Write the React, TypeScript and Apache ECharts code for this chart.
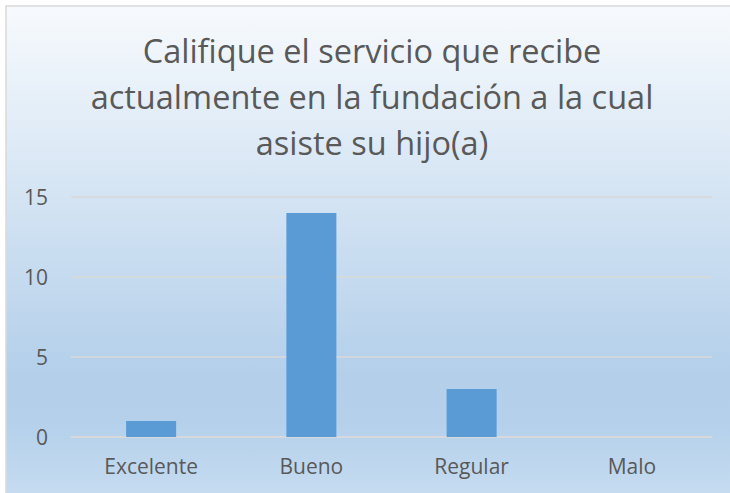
import React, { useEffect, useRef } from "react";
import * as echarts from "echarts";

const titleText = "Califique el servicio que recibe\nactualmente en la fundación a la cual\nasiste su hijo(a)";
const categories = ["Excelente", "Bueno", "Regular", "Malo"];
const values = [1, 14, 3, 0];
const yTicks = { min: 0, max: 15, interval: 5 };

export default function App() {
  const ref = useRef<HTMLDivElement>(null);
  useEffect(() => {
    const chart = echarts.init(ref.current!, null, { renderer: "svg" });
    const font = "'Open Sans', 'Noto Sans', sans-serif";
    chart.setOption({
      animation: false,
      graphic: [
        {
          type: "rect",
          z: -10,
          silent: true,
          shape: { x: 6, y: 6, width: 740, height: 500 },
          style: {
            fill: new echarts.graphic.LinearGradient(0, 0, 0, 1, [
              { offset: 0, color: "#f7fafd" },
              { offset: 0.74, color: "#b3cfea" },
              { offset: 0.83, color: "#b4d0eb" },
              { offset: 1, color: "#c8ddf1" },
            ]),
            stroke: "#d9d9d9",
            lineWidth: 1.5,
          },
        },
      ],
      title: {
        text: titleText,
        left: 367,
        textAlign: "center",
        top: 22,
        textStyle: {
          fontFamily: font,
          fontSize: 32.5,
          fontWeight: "normal",
          color: "#595959",
          lineHeight: 46,
        },
      },
      grid: { left: 71, right: 18, top: 197, bottom: 56 },
      xAxis: {
        type: "category",
        data: categories,
        axisLine: { lineStyle: { color: "#d9d9d9", width: 1.5 } },
        axisTick: { show: false },
        axisLabel: { fontFamily: font, fontSize: 21, color: "#595959", margin: 18 },
      },
      yAxis: {
        type: "value",
        min: yTicks.min,
        max: yTicks.max,
        interval: yTicks.interval,
        axisLine: { show: false },
        axisTick: { show: false },
        splitLine: { lineStyle: { color: "#d9d9d9", width: 1.5 } },
        axisLabel: { fontFamily: font, fontSize: 21, color: "#595959", margin: 23 },
      },
      series: [
        {
          type: "bar",
          data: values,
          barWidth: 50,
          itemStyle: { color: "#5b9bd5" },
        },
      ],
    });
    return () => chart.dispose();
  }, []);
  return (
    <div
      ref={ref}
      style={{ position: "absolute", left: 0, top: 0, width: 730, height: 493 }}
    />
  );
}
